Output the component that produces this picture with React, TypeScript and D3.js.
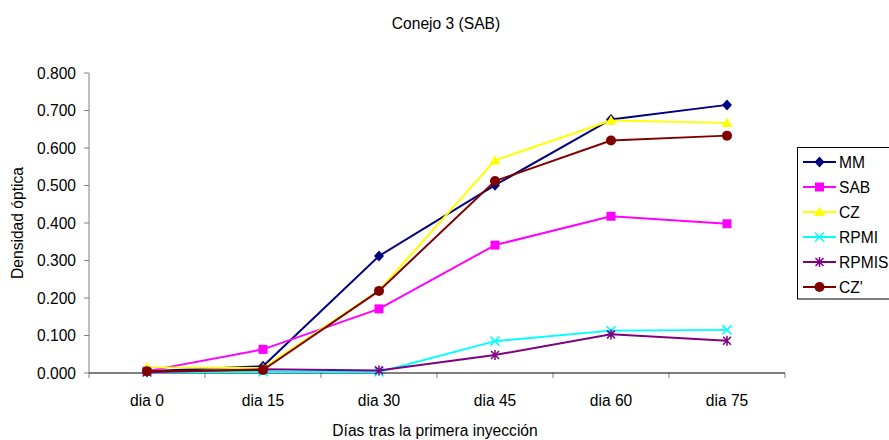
import React, { useEffect, useRef } from 'react'
import * as d3 from 'd3'

const categories = ['dia 0', 'dia 15', 'dia 30', 'dia 45', 'dia 60', 'dia 75']
const seriesNames = ['MM', 'SAB', 'CZ', 'RPMI', 'RPMIS', "CZ'"]
const mm = [0.005, 0.018, 0.312, 0.501, 0.676, 0.715]
const sab = [0.005, 0.063, 0.171, 0.341, 0.418, 0.398]
const cz = [0.015, 0.013, 0.220, 0.567, 0.673, 0.667]
const rpmi = [0.002, 0.003, 0.003, 0.085, 0.113, 0.115]
const rpmis = [0.002, 0.010, 0.007, 0.048, 0.103, 0.086]
const czp = [0.005, 0.008, 0.219, 0.512, 0.620, 0.633]
const yTicks = [0, 0.1, 0.2, 0.3, 0.4, 0.5, 0.6, 0.7, 0.8]

const colors = ['#000080', '#FF00FF', '#FFFF00', '#00FFFF', '#800080', '#800000']
const markers = ['diamond', 'square', 'triangle', 'x', 'star', 'circle']

const font = 'Liberation Sans, Arial, sans-serif'
const fs = 15.6

function drawMarker(g: any, type: string, x: number, y: number, color: string) {
  if (type === 'diamond') {
    g.append('path').attr('d', `M${x},${y - 5.5}L${x + 5},${y}L${x},${y + 5.5}L${x - 5},${y}Z`).attr('fill', color)
  } else if (type === 'square') {
    g.append('rect').attr('x', x - 4.5).attr('y', y - 4.5).attr('width', 9).attr('height', 9).attr('fill', color)
  } else if (type === 'triangle') {
    g.append('path').attr('d', `M${x},${y - 5.5}L${x + 5.5},${y + 4}L${x - 5.5},${y + 4}Z`).attr('fill', color)
  } else if (type === 'x') {
    g.append('path').attr('d', `M${x - 4.5},${y - 4.5}L${x + 4.5},${y + 4.5}M${x - 4.5},${y + 4.5}L${x + 4.5},${y - 4.5}`).attr('stroke', color).attr('stroke-width', 1.5)
  } else if (type === 'star') {
    g.append('path').attr('d', `M${x - 4},${y - 4}L${x + 4},${y + 4}M${x - 4},${y + 4}L${x + 4},${y - 4}M${x},${y - 5}L${x},${y + 5}`).attr('stroke', color).attr('stroke-width', 1.5)
  } else {
    g.append('circle').attr('cx', x).attr('cy', y).attr('r', 5).attr('fill', color)
  }
}

export default function App() {
  const svgRef = useRef(null)
  const margin = { top: 73, left: 89, right: 104, bottom: 67 }
  const width = 889
  const height = 440

  useEffect(() => {
    const svg = d3.select(svgRef.current)
    svg.selectAll('*').remove()
    const series = [mm, sab, cz, rpmi, rpmis, czp]

    const x = d3.scaleBand().domain(categories).range([margin.left, width - margin.right])
    const y = d3.scaleLinear().domain([0, 0.8]).range([height - margin.bottom, margin.top])
    const cx = (c: string) => (x(c) as number) + x.bandwidth() / 2

    svg.append('text').attr('x', 446).attr('y', 29).attr('text-anchor', 'middle')
      .attr('font-family', font).attr('font-size', fs).text('Conejo 3 (SAB)')

    // y axis
    const ya = svg.append('g')
    ya.append('line').attr('x1', margin.left).attr('x2', margin.left)
      .attr('y1', y(0)).attr('y2', y(0.8)).attr('stroke', '#808080')
    yTicks.forEach(t => {
      ya.append('line').attr('x1', margin.left - 5).attr('x2', margin.left)
        .attr('y1', y(t)).attr('y2', y(t)).attr('stroke', '#808080')
      ya.append('text').attr('x', margin.left - 13).attr('y', y(t) + 5.5)
        .attr('text-anchor', 'end').attr('font-family', font).attr('font-size', fs)
        .text(d3.format('.3f')(t))
    })

    // x axis
    const xa = svg.append('g')
    const edges = categories.map(c => x(c) as number).concat([width - margin.right])
    edges.forEach(e => {
      xa.append('line').attr('x1', e).attr('x2', e).attr('y1', y(0)).attr('y2', y(0) + 5).attr('stroke', '#808080')
    })
    xa.append('line').attr('x1', margin.left).attr('x2', width - margin.right)
      .attr('y1', y(0)).attr('y2', y(0)).attr('stroke', '#000')
    categories.forEach(c => {
      xa.append('text').attr('x', cx(c)).attr('y', y(0) + 33).attr('text-anchor', 'middle')
        .attr('font-family', font).attr('font-size', fs).text(c)
    })

    svg.append('text').attr('x', 435).attr('y', 436).attr('text-anchor', 'middle')
      .attr('font-family', font).attr('font-size', fs).text('Días tras la primera inyección')
    svg.append('text').attr('transform', `translate(23,${y(0.4)}) rotate(-90)`).attr('text-anchor', 'middle')
      .attr('font-family', font).attr('font-size', fs).text('Densidad óptica')

    const line = d3.line<number>().x((d, i) => cx(categories[i])).y(d => y(d))
    series.forEach((s, k) => {
      const g = svg.append('g')
      g.append('path').attr('d', line(s)).attr('fill', 'none').attr('stroke', colors[k]).attr('stroke-width', 2)
      s.forEach((v, i) => drawMarker(g, markers[k], cx(categories[i]), y(v), colors[k]))
    })

    // legend
    const lg = svg.append('g')
    lg.append('rect').attr('x', 797.5).attr('y', 147.5).attr('width', 100).attr('height', 151.5)
      .attr('fill', 'white').attr('stroke', '#000')
    seriesNames.forEach((n, k) => {
      const ly = 162 + k * 25
      lg.append('line').attr('x1', 803).attr('x2', 836).attr('y1', ly).attr('y2', ly)
        .attr('stroke', colors[k]).attr('stroke-width', 2)
      drawMarker(lg, markers[k], 819.5, ly, colors[k])
      lg.append('text').attr('x', 839).attr('y', ly + 5.5).attr('font-family', font).attr('font-size', fs).text(n)
    })
  }, [])

  return (
    <svg ref={svgRef} width={width} height={height}
      style={{ position: 'absolute', left: 0, top: 0, background: 'white' }} />
  )
}
